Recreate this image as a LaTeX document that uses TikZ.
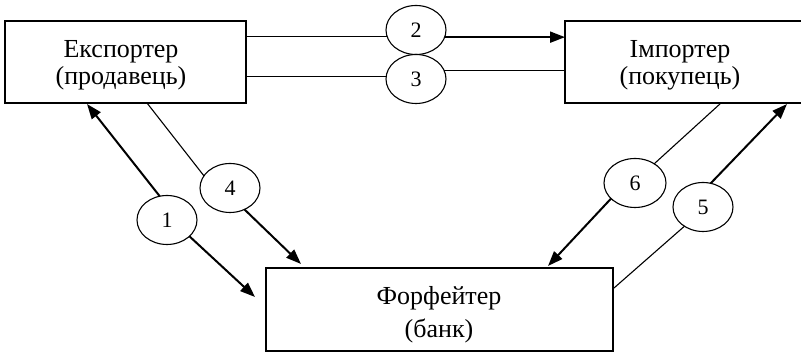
\documentclass[tikz,border=0pt]{standalone}
\usepackage{fontspec}
\setmainfont{Liberation Serif}
\usetikzlibrary{arrows.meta,shapes.geometric,calc}
\begin{document}
\begin{tikzpicture}[x=1pt,y=-1pt,
  box/.style={draw,line width=1.3pt,inner sep=0pt,outer sep=0pt},
  boxtext/.style={align=center,font=\fontsize{26}{27}\selectfont,inner sep=0pt},
  num/.style={ellipse,draw,line width=1.1pt,fill=white,minimum width=60pt,minimum height=49pt,inner sep=0pt,outer sep=0pt,font=\fontsize{22}{24}\selectfont},
  thinline/.style={line width=1.1pt},
  flow/.style={line width=2pt,-{Triangle[length=15pt,width=11pt]}},
]
\useasboundingbox (0,0) rectangle (801,352);
% boxes
\node[box,minimum width=241pt,minimum height=82pt] (exp) at (125.5,62) {};
\node[box,minimum width=237pt,minimum height=82pt] (imp) at (683.5,62) {};
\node[box,minimum width=347pt,minimum height=83pt] (ff) at (439.5,309.5) {};
\node[boxtext] (expt) at (121,65.5) {Експортер\\(продавець)};
\node[boxtext] (impt) at (680,65.5) {Імпортер\\(покупець)};
\node[boxtext] (fft) at (439,314.5) {Форфейтер\\[6pt](банк)};
% numbered circles
\node[num] (c2) at (416,30) {2};
\node[num] (c3) at (416,79) {3};
\node[num] (c1) at (167,220) {1};
\node[num] (c4) at (230,188) {4};
\node[num,minimum width=62pt] (c6) at (635,183) {6};
\node[num] (c5) at (703,207) {5};
% 2 and 3
\draw[thinline] (c2.193.7) -- (c2.193.7 -| exp.east);
\draw[flow] (c2.346.3) -- (c2.346.3 -| imp.west);
\draw[thinline] (c3.175.2) -- (c3.175.2 -| exp.east);
\draw[thinline] (c3.16.4) -- (c3.16.4 -| imp.west);
% 1
\coordinate (t1a) at ($(exp.south west)+(82,1)$);
\coordinate (t1b) at ($(ff.north west)+(-11,29)$);
\draw[flow] (c1.107.7) -- (t1a);
\draw[flow] (c1.324.7) -- (t1b);
% 4
\coordinate (s4) at ($(exp.south west)+(142,0)$);
\coordinate (t4) at ($(ff.north west)+(35,-4)$);
\draw[thinline] (s4) -- (c4.155);
\draw[flow] (c4.304.4) -- (t4);
% 6
\coordinate (s6) at ($(imp.south west)+(156,0)$);
\coordinate (t6) at ($(ff.north east)+(-65,-2)$);
\draw[thinline] (s6) -- (c6.45);
\draw[flow] (c6.213.7) -- (t6);
% 5
\coordinate (s5) at ($(ff.north east)+(1,20)$);
\coordinate (t5) at ($(imp.south west)+(222,1)$);
\draw[thinline] (s5) -- (c5.226.4);
\draw[flow] (c5.72.3) -- (t5);
\end{tikzpicture}
\end{document}
